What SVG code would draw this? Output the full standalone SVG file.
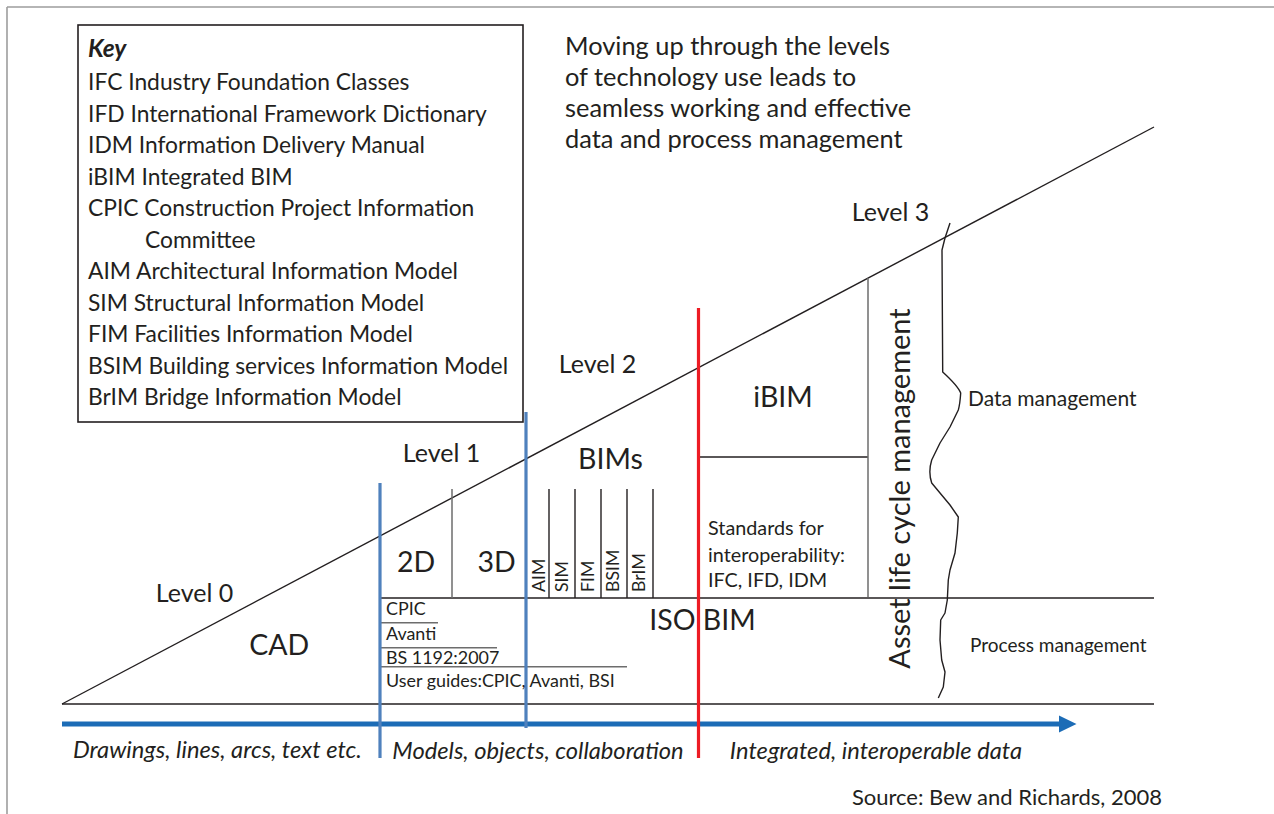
<svg xmlns="http://www.w3.org/2000/svg" width="1274" height="814" viewBox="0 0 1274 814">
<style>
text{font-family:Lato,"Liberation Sans",sans-serif;fill:#231f20}
.key{font-size:22.8px}
.top{font-size:25.4px}
.lvl{font-size:25px;text-anchor:middle}
.big{font-size:28.5px;text-anchor:middle}
.sm{font-size:17.9px}
.std{font-size:19.8px}
.rot{font-size:17.7px}
.mgmt{font-size:21px}
.it{font-size:23.7px;font-style:italic;text-anchor:middle}
.thin{stroke:#231f20;stroke-width:1.4;fill:none}
.gray{stroke:#6d6d6d;stroke-width:1.5;fill:none}
.blue{stroke:#4f81bd;stroke-width:3.2}
.red{stroke:#ed1c24;stroke-width:3.2}
</style>
<g id="frame" fill="none" stroke="#9d9d9d" stroke-width="1.6">
<line x1="7" y1="7" x2="1274" y2="7"/>
<line x1="7" y1="7" x2="7" y2="814"/>
</g>
<g id="key">
<rect x="78" y="25" width="445" height="397" fill="#fff" stroke="#231f20" stroke-width="1.6"/>
<text x="88" y="57" font-size="24.5" font-weight="bold" font-style="italic">Key</text>
<text x="88" y="90" class="key">IFC Industry Foundation Classes</text>
<text x="88" y="121.5" class="key">IFD International Framework Dictionary</text>
<text x="88" y="153" class="key">IDM Information Delivery Manual</text>
<text x="88" y="184.5" class="key">iBIM Integrated BIM</text>
<text x="88" y="216" class="key">CPIC Construction Project Information</text>
<text x="145" y="247.5" class="key">Committee</text>
<text x="88" y="279" class="key">AIM Architectural Information Model</text>
<text x="88" y="310.5" class="key">SIM Structural Information Model</text>
<text x="88" y="342" class="key">FIM Facilities Information Model</text>
<text x="88" y="373.5" class="key">BSIM Building services Information Model</text>
<text x="88" y="405" class="key">BrIM Bridge Information Model</text>
</g>
<g id="caption">
<text x="565" y="55" class="top">Moving up through the levels</text>
<text x="565" y="86" class="top">of technology use leads to</text>
<text x="565" y="117" class="top">seamless working and effective</text>
<text x="565" y="148" class="top">data and process management</text>
</g>
<g id="connectors">
<line class="thin" x1="62" y1="704" x2="1154" y2="127"/>
<line class="thin" x1="62" y1="704" x2="1154" y2="704"/>
<line class="thin" x1="380" y1="598" x2="1154" y2="598"/>
<line class="gray" x1="452" y1="489" x2="452" y2="598"/>
<line class="thin" x1="549" y1="489" x2="549" y2="598"/>
<line class="thin" x1="575" y1="489" x2="575" y2="598"/>
<line class="thin" x1="601" y1="489" x2="601" y2="598"/>
<line class="thin" x1="627" y1="489" x2="627" y2="598"/>
<line class="thin" x1="653" y1="489" x2="653" y2="598"/>
<line class="thin" x1="698" y1="457" x2="868" y2="457"/>
<line class="gray" x1="868" y1="278" x2="868" y2="597"/>
<line class="gray" x1="380" y1="622.7" x2="438" y2="622.7"/>
<line class="gray" x1="380" y1="647.7" x2="497" y2="647.7"/>
<line class="gray" x1="380" y1="666.7" x2="627" y2="666.7"/>
<path class="thin" stroke-width="1.2" stroke-linejoin="round" d="M950,223 L945,238 L942,250 L942.7,372 Q958,386 960.7,393 Q960,404 958.3,410 L950,427 L940,443 L931.7,460 Q928,472 931.7,483 L940,493 L950,505 L958.3,517 L957.3,533 L955,553 L950,570 L948.3,580 L947.3,600 L945,613 L940.7,620 L940,640 L941.7,660 L945,672 L943.3,687 L938.3,698"/>
<line stroke="#1c6cb6" stroke-width="5" x1="62" y1="724" x2="1062" y2="724"/>
<polygon fill="#1c6cb6" points="1059,715.5 1076.5,724 1059,732.5"/>
<line class="blue" x1="380" y1="483" x2="380" y2="758"/>
<line class="blue" x1="526" y1="412" x2="526" y2="728"/>
<line class="red" x1="698.5" y1="308" x2="698.5" y2="758"/>
</g>
<g id="levels">
<text x="194.5" y="602" class="lvl">Level 0</text>
<text x="441.5" y="462" class="lvl">Level 1</text>
<text x="597.5" y="372.7" class="lvl">Level 2</text>
<text x="890.5" y="221" class="lvl">Level 3</text>
</g>
<g id="cad"><text x="279.3" y="655" class="big" font-size="27.5">CAD</text></g>
<g id="level1-blocks">
<text x="416" y="572" class="big">2D</text>
<text x="496.7" y="572" class="big">3D</text>
<text x="386" y="615" class="sm">CPIC</text>
<text x="386" y="640" class="sm">Avanti</text>
<text x="386" y="664" class="sm">BS 1192:2007</text>
<text x="386" y="687.3" class="sm">User guides:CPIC, Avanti, BSI</text>
</g>
<g id="bims">
<text x="610.5" y="469" class="big">BIMs</text>
<text class="rot" transform="translate(545,592) rotate(-90)">AIM</text>
<text class="rot" transform="translate(568,592) rotate(-90)">SIM</text>
<text class="rot" transform="translate(594,592) rotate(-90)">FIM</text>
<text class="rot" transform="translate(619,592) rotate(-90)">BSIM</text>
<text class="rot" transform="translate(645,592) rotate(-90)">BrIM</text>
</g>
<g id="level2-blocks">
<text x="783" y="407" class="big">iBIM</text>
<text x="702.5" y="630" class="big">ISO BIM</text>
<text x="708" y="535" class="std">Standards for</text>
<text x="708" y="562" class="std">interoperability:</text>
<text x="708" y="587" class="std">IFC, IFD, IDM</text>
</g>
<g id="asset"><text transform="translate(910,488.5) rotate(-90)" font-size="29" text-anchor="middle">Asset life cycle management</text></g>
<g id="management">
<text x="968" y="406" class="mgmt">Data management</text>
<text x="970" y="652" font-size="19">Process management</text>
</g>
<g id="axis-labels">
<text x="217.5" y="758" class="it">Drawings, lines, arcs, text etc.</text>
<text x="538" y="759" class="it">Models, objects, collaboration</text>
<text x="876" y="759" class="it">Integrated, interoperable data</text>
</g>
<g id="source"><text x="1162" y="805" font-size="22" text-anchor="end">Source: Bew and Richards, 2008</text></g>
</svg>
